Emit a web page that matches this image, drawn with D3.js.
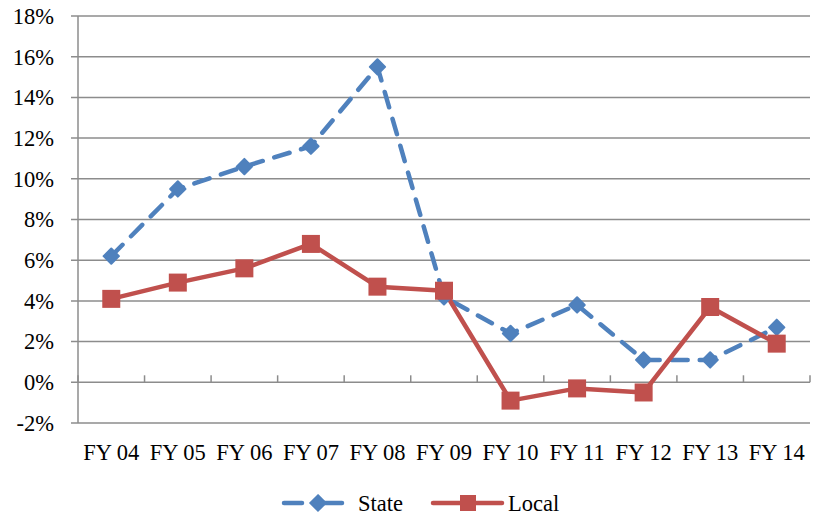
<!DOCTYPE html>
<html>
<head>
<meta charset="utf-8">
<script src="https://cdn.jsdelivr.net/npm/d3@7"></script>
<style>
body { margin: 0; background: #fff; }
text { font-family: "Liberation Serif", "Times New Roman", serif; fill: #000; }
</style>
</head>
<body>
<svg width="820" height="517"></svg>
<script>
var categories = ['FY 04','FY 05','FY 06','FY 07','FY 08','FY 09','FY 10','FY 11','FY 12','FY 13','FY 14'];
var stateValues = [6.2, 9.5, 10.6, 11.6, 15.5, 4.2, 2.4, 3.8, 1.1, 1.1, 2.7];
var localValues = [4.1, 4.9, 5.6, 6.8, 4.7, 4.5, -0.9, -0.3, -0.5, 3.7, 1.9];
var yTicks = [-2, 0, 2, 4, 6, 8, 10, 12, 14, 16, 18];

var svg = d3.select('svg');
var plotLeft = 78, plotRight = 810, plotTop = 16, plotBottom = 423;
var fontSize = 22.5;

var x = d3.scaleBand().domain(categories).range([plotLeft, plotRight]);
var y = d3.scaleLinear().domain([-2, 18]).range([plotBottom, plotTop]);

// gridlines
svg.append('g').selectAll('line').data(yTicks).enter().append('line')
	.attr('x1', plotLeft - 7)
	.attr('x2', plotRight)
	.attr('y1', function(d) { return y(d); })
	.attr('y2', function(d) { return y(d); })
	.attr('stroke', '#8c8c8c')
	.attr('stroke-width', 1.5);

// left axis line
svg.append('line')
	.attr('x1', plotLeft).attr('x2', plotLeft)
	.attr('y1', plotTop).attr('y2', plotBottom)
	.attr('stroke', '#8c8c8c')
	.attr('stroke-width', 1.5);

// category ticks on zero line
svg.append('g').selectAll('line').data(d3.range(categories.length + 1)).enter().append('line')
	.attr('x1', function(i) { return plotLeft + i * x.bandwidth(); })
	.attr('x2', function(i) { return plotLeft + i * x.bandwidth(); })
	.attr('y1', y(0))
	.attr('y2', y(0) - 7)
	.attr('stroke', '#8c8c8c')
	.attr('stroke-width', 1.5);

// y labels
svg.append('g').selectAll('text').data(yTicks).enter().append('text')
	.attr('x', 54)
	.attr('y', function(d) { return y(d); })
	.attr('dy', '0.35em')
	.attr('text-anchor', 'end')
	.style('font-size', fontSize + 'px')
	.text(function(d) { return d + '%'; });

// x labels
svg.append('g').selectAll('text').data(categories).enter().append('text')
	.attr('x', function(d) { return x(d) + x.bandwidth() / 2; })
	.attr('y', 460)
	.attr('text-anchor', 'middle')
	.style('font-size', fontSize + 'px')
	.text(function(d) { return d; });

var line = d3.line()
	.x(function(d, i) { return x(categories[i]) + x.bandwidth() / 2; })
	.y(function(d) { return y(d); });

var blue = '#4f81bd', red = '#c0504d';

svg.append('path')
	.datum(stateValues)
	.attr('d', line)
	.attr('fill', 'none')
	.attr('stroke', blue)
	.attr('stroke-width', 4.5)
	.attr('stroke-dasharray', '16,12')
	.attr('stroke-linecap', 'round');

svg.append('path')
	.datum(localValues)
	.attr('d', line)
	.attr('fill', 'none')
	.attr('stroke', red)
	.attr('stroke-width', 4.5)
	.attr('stroke-linejoin', 'round');

var diamond = d3.symbol().type(d3.symbolDiamond2).size(150);

svg.append('g').selectAll('path').data(stateValues).enter().append('path')
	.attr('d', diamond)
	.attr('transform', function(d, i) { return 'translate(' + (x(categories[i]) + x.bandwidth() / 2) + ',' + y(d) + ')'; })
	.attr('fill', blue)
	.attr('stroke', blue)
	.attr('stroke-width', 2)
	.attr('stroke-linejoin', 'round');

svg.append('g').selectAll('rect').data(localValues).enter().append('rect')
	.attr('x', function(d, i) { return x(categories[i]) + x.bandwidth() / 2 - 9; })
	.attr('y', function(d) { return y(d) - 9; })
	.attr('width', 18)
	.attr('height', 18)
	.attr('fill', red);

// legend
var leg = svg.append('g');
leg.append('line')
	.attr('x1', 284).attr('x2', 302)
	.attr('y1', 503).attr('y2', 503)
	.attr('stroke', blue).attr('stroke-width', 4.5)
	.attr('stroke-linecap', 'round');
leg.append('line')
	.attr('x1', 318).attr('x2', 342)
	.attr('y1', 503).attr('y2', 503)
	.attr('stroke', blue).attr('stroke-width', 4.5)
	.attr('stroke-linecap', 'round');
leg.append('path')
	.attr('d', diamond)
	.attr('transform', 'translate(318,503)')
	.attr('fill', blue).attr('stroke', blue).attr('stroke-width', 2);
leg.append('text')
	.attr('x', 358).attr('y', 503).attr('dy', '0.35em')
	.style('font-size', fontSize + 'px')
	.text('State');

leg.append('line')
	.attr('x1', 433).attr('x2', 502)
	.attr('y1', 503).attr('y2', 503)
	.attr('stroke', red).attr('stroke-width', 4.5)
	.attr('stroke-linecap', 'round');
leg.append('rect')
	.attr('x', 460).attr('y', 495)
	.attr('width', 16).attr('height', 16)
	.attr('fill', red);
leg.append('text')
	.attr('x', 508).attr('y', 503).attr('dy', '0.35em')
	.style('font-size', fontSize + 'px')
	.text('Local');
</script>
</body>
</html>
